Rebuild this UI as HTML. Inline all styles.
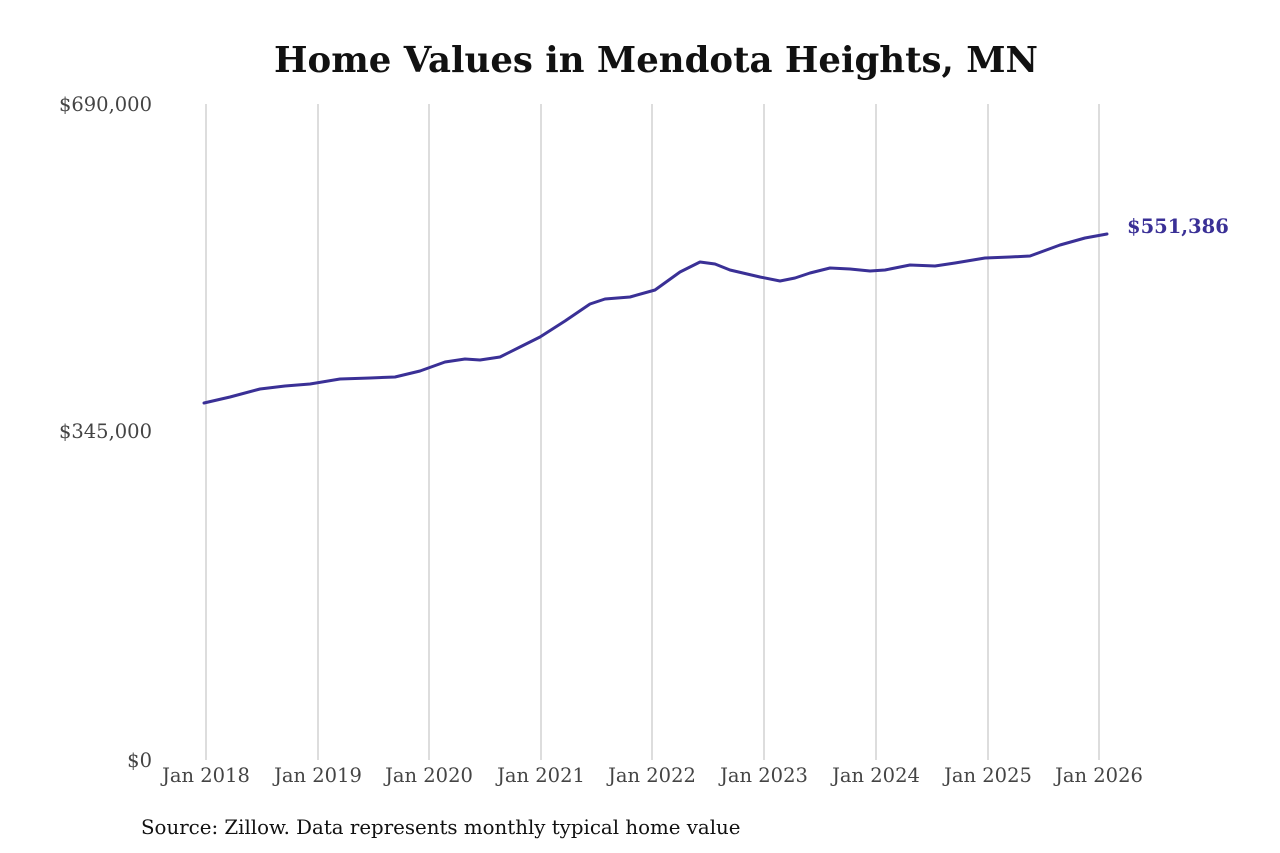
<!DOCTYPE html>
<html><head><meta charset="utf-8"><style>
body{margin:0;background:#fff;}
svg{display:block;font-family:"DejaVu Serif","Liberation Serif",serif;}
</style></head><body>
<svg width="1280" height="853" viewBox="0 0 1280 853">
<text x="656" y="72" text-anchor="middle" font-size="35.5" font-weight="bold" fill="#111">Home Values in Mendota Heights, MN</text>
<g stroke="#bbb" stroke-width="1">
<line x1="206" y1="104" x2="206" y2="760"/><line x1="318" y1="104" x2="318" y2="760"/>
<line x1="429" y1="104" x2="429" y2="760"/><line x1="541" y1="104" x2="541" y2="760"/>
<line x1="652" y1="104" x2="652" y2="760"/><line x1="764" y1="104" x2="764" y2="760"/>
<line x1="876" y1="104" x2="876" y2="760"/><line x1="988" y1="104" x2="988" y2="760"/>
<line x1="1099" y1="104" x2="1099" y2="760"/>
</g>
<g font-size="19.5" fill="#444" text-anchor="end">
<text x="152" y="111">$690,000</text><text x="152" y="438">$345,000</text><text x="152" y="767">$0</text>
</g>
<g font-size="19.5" fill="#444" text-anchor="middle">
<text x="206" y="782">Jan 2018</text><text x="318" y="782">Jan 2019</text><text x="429" y="782">Jan 2020</text>
<text x="541" y="782">Jan 2021</text><text x="652" y="782">Jan 2022</text><text x="764" y="782">Jan 2023</text>
<text x="876" y="782">Jan 2024</text><text x="988" y="782">Jan 2025</text><text x="1099" y="782">Jan 2026</text>
</g>
<polyline fill="none" stroke="#3a3096" stroke-width="3" stroke-linejoin="round" stroke-linecap="round" points="204,403 230,397 260,389 285,386 310,384 340,379 370,378 395,377 420,371 445,362 465,359 480,360 500,357 520,347 540,337 565,321 590,304 605,299 630,297 655,290 680,272 700,262 715,264 730,270 760,277 780,281 795,278 810,273 830,268 850,269 870,271 885,270 910,265 935,266 955,263 985,258 1010,257 1030,256 1060,245 1085,238 1107,234"/>
<text x="1127" y="233" font-size="19.5" font-weight="bold" fill="#3a3096">$551,386</text>
<text x="141" y="834" font-size="19.8" fill="#111">Source: Zillow. Data represents monthly typical home value</text>
</svg>
</body></html>
